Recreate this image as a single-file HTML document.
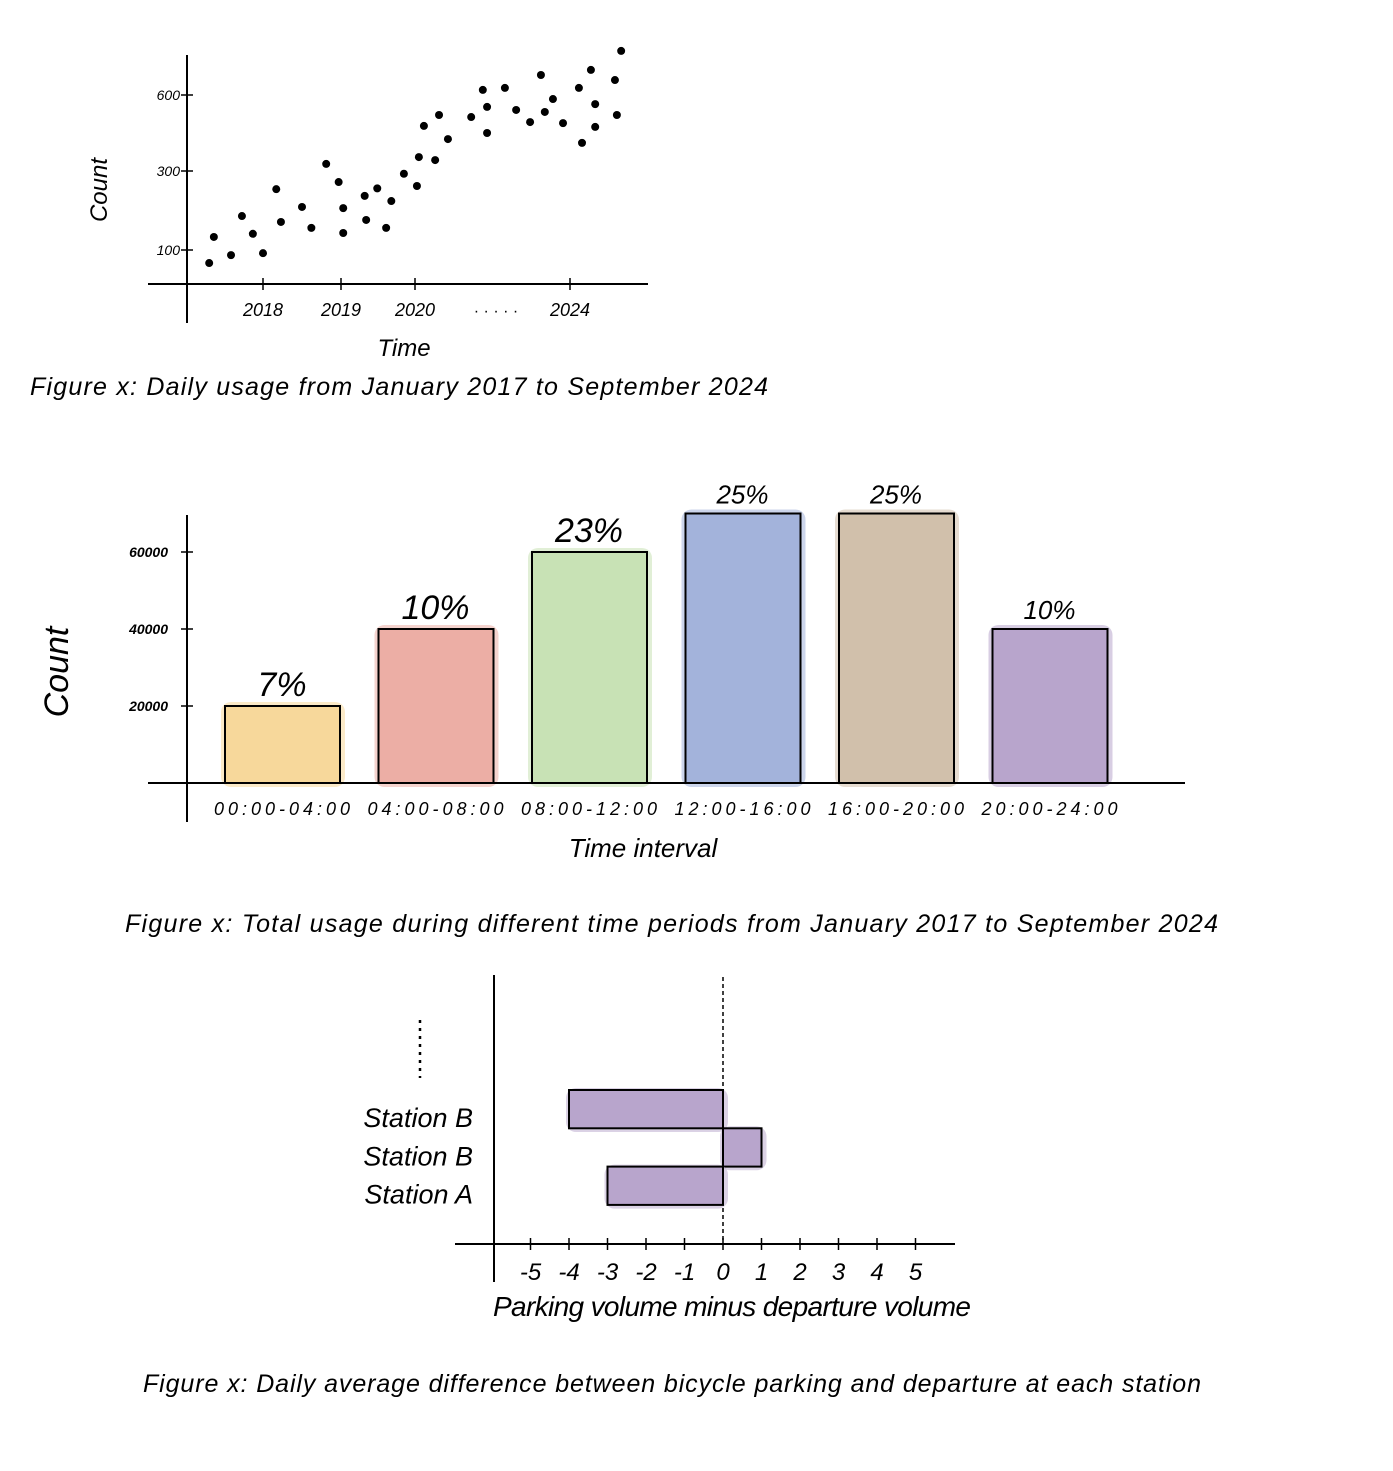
<!DOCTYPE html>
<html><head><meta charset="utf-8"><style>
body{margin:0;background:#fff;}
svg text{font-family:"Liberation Sans",sans-serif;fill:#000;}
</style></head><body>
<svg width="1393" height="1466" viewBox="0 0 1393 1466" id="svg">
<g id="g1"></g>
<g id="g2"></g>
<g id="g3"></g>
</svg>
<script>
// ---- Chart 1 data ----
const scatterYears=[2017.31,2017.37,2017.59,2017.73,2017.87,2018.0,2018.17,2018.23,2018.5,2018.62,2018.81,2018.97,2019.03,2019.03,2019.32,2019.34,2019.49,2019.61,2019.68,2019.85,2020.05,2020.1,2020.23,2020.52,2020.62,2020.85,2021.45,2021.75,2021.86,2021.86,2022.32,2022.61,2022.97,2023.25,2023.35,2023.56,2023.82,2024.23,2024.31,2024.54,2024.65,2024.65,2025.16,2025.21,2025.32];
const scatterCounts=[67,133,87,186,141,92,254,171,209,156,328,272,206,143,237,176,256,156,224,293,262,355,478,343,521,426,513,620,553,450,628,541,493,679,533,584,489,628,411,699,564,474,659,521,774];
const yTicks1=[100,300,600];
const xTicks1=[2018,2019,2020,2024];
// ---- Chart 2 data ----
const intervals=["00:00-04:00","04:00-08:00","08:00-12:00","12:00-16:00","16:00-20:00","20:00-24:00"];
const intervalCounts=[20000,40000,60000,70000,70000,40000];
const intervalPct=["7%","10%","23%","25%","25%","10%"];
const yTicks2=[20000,40000,60000];
// ---- Chart 3 data ----
const stations=["Station B","Station B","Station A"];
const stationDiff=[-4,1,-3];
const xTicks3=[-5,-4,-3,-2,-1,0,1,2,3,4,5];

const NS="http://www.w3.org/2000/svg";
function mk(parent,tag,attrs,text){const e=document.createElementNS(NS,tag);for(const k in attrs)e.setAttribute(k,attrs[k]);if(text!==undefined)e.textContent=text;parent.appendChild(e);return e;}
function pw(d,r){return v=>{let i=0;while(i<d.length-2&&v>d[i+1])i++;return r[i]+(v-d[i])*(r[i+1]-r[i])/(d[i+1]-d[i]);};}

// Chart 1
const g1=document.getElementById('g1');
const x1=pw([2018,2019,2020,2024],[263,341,415,570]);
const y1=pw([100,300,600],[250,171,95]);
let e;
e=mk(g1,'line',{x1:187,y1:55,x2:187,y2:323,stroke:'#000','stroke-width':2});

e=mk(g1,'line',{x1:148,y1:284,x2:648,y2:284,stroke:'#000','stroke-width':2});

yTicks1.forEach(t=>{const y=y1(t);
 e=mk(g1,'line',{x1:181,y1:y,x2:193,y2:y,stroke:'#000','stroke-width':1.5});
 
 e=mk(g1,'text',{x:180,y:y+5,'text-anchor':'end','font-size':14,'font-style':'italic'},t);
 });
xTicks1.forEach(t=>{const x=x1(t);
 e=mk(g1,'line',{x1:x,y1:278,x2:x,y2:290,stroke:'#000','stroke-width':1.5});
 
 e=mk(g1,'text',{x:x,y:316,'text-anchor':'middle','font-size':18,'font-style':'italic'},t);
 });
e=mk(g1,'text',{x:496,y:316,'text-anchor':'middle','font-size':16},'· · · · ·');

scatterYears.forEach((v,i)=>{
 e=mk(g1,'circle',{cx:x1(v),cy:y1(scatterCounts[i]),r:4,fill:'#000'});
 });
e=mk(g1,'text',{x:107,y:190,'text-anchor':'middle','font-size':24,'font-style':'italic',transform:'rotate(-90 107 190)'},'Count');

e=mk(g1,'text',{x:404,y:356,'text-anchor':'middle','font-size':24,'font-style':'italic'},'Time');

e=mk(g1,'text',{x:30,y:395,'font-size':25,'font-style':'italic',textLength:738},'Figure x: Daily usage from January 2017 to September 2024');


// Chart 2
const g2=document.getElementById('g2');
const colors=['#f7d89b','#ecaea5','#c8e2b5','#a3b3db','#d1c0ab','#b8a5cc'];
const y2=v=>783-v*77/20000;
const bx=i=>225+i*153.5;
e=mk(g2,'line',{x1:187,y1:515,x2:187,y2:822,stroke:'#000','stroke-width':2});

yTicks2.forEach(t=>{const y=y2(t);
 e=mk(g2,'line',{x1:181,y1:y,x2:193,y2:y,stroke:'#000','stroke-width':1.5});
 
 e=mk(g2,'text',{x:168,y:y+5,'text-anchor':'end','font-size':14,'font-weight':'bold','font-style':'italic'},t);
 });
intervals.forEach((c,i)=>{const x=bx(i),y=y2(intervalCounts[i]);
 e=mk(g2,'rect',{x:x-4,y:y-4,width:124,height:783-y+8,rx:10,fill:colors[i],opacity:0.55});
 
 e=mk(g2,'rect',{x:x,y:y,width:115,height:783-y,fill:colors[i],stroke:'#000','stroke-width':2});
 
 e=mk(g2,'text',{x:x+57,y:y-10,'text-anchor':'middle','font-size':i>=3?26:34,'font-style':'italic'},intervalPct[i]);
 
 e=mk(g2,'text',{x:x+57,y:815,'text-anchor':'middle','font-size':18,'font-style':'italic',textLength:136},c);
 });
e=mk(g2,'line',{x1:148,y1:783,x2:1185,y2:783,stroke:'#000','stroke-width':2});

e=mk(g2,'text',{x:68,y:672,'text-anchor':'middle','font-size':34,'font-style':'italic',transform:'rotate(-90 68 672)'},'Count');

e=mk(g2,'text',{x:643,y:857,'text-anchor':'middle','font-size':26,'font-style':'italic'},'Time interval');

e=mk(g2,'text',{x:125,y:932,'font-size':25,'font-style':'italic',textLength:1093},'Figure x: Total usage during different time periods from January 2017 to September 2024');


// Chart 3
const g3=document.getElementById('g3');
const x3=v=>723+v*38.5;
const rowTop=i=>1090+i*38.3;
e=mk(g3,'line',{x1:494,y1:975,x2:494,y2:1282,stroke:'#000','stroke-width':2});

e=mk(g3,'line',{x1:723,y1:977,x2:723,y2:1244,stroke:'#000','stroke-width':1.5,'stroke-dasharray':'4 3'});

e=mk(g3,'line',{x1:420,y1:1020,x2:420,y2:1078,stroke:'#000','stroke-width':2.5,'stroke-dasharray':'3 5'});

stations.forEach((s,i)=>{const v=stationDiff[i],y=rowTop(i);const xa=Math.min(x3(0),x3(v)),w=Math.abs(x3(v)-x3(0));
 e=mk(g3,'rect',{x:xa-3,y:y-2,width:w+8,height:44,rx:10,fill:'#b8a5cc',opacity:0.5});
 
 e=mk(g3,'rect',{x:xa,y:y,width:w,height:38.3,fill:'#b8a5cc',stroke:'#000','stroke-width':2});
 
 e=mk(g3,'text',{x:473,y:y+37,'text-anchor':'end','font-size':27,'font-style':'italic'},s);
 });
e=mk(g3,'line',{x1:455,y1:1244,x2:955,y2:1244,stroke:'#000','stroke-width':2});

xTicks3.forEach(t=>{const x=x3(t);
 e=mk(g3,'line',{x1:x,y1:1238,x2:x,y2:1250,stroke:'#000','stroke-width':1.5});
 
 e=mk(g3,'text',{x:x,y:1280,'text-anchor':'middle','font-size':24,'font-style':'italic'},t);
 });
e=mk(g3,'text',{x:732,y:1316,'text-anchor':'middle','font-size':28,'font-style':'italic',textLength:478},'Parking volume minus departure volume');

e=mk(g3,'text',{x:143,y:1392,'font-size':25,'font-style':'italic',textLength:1058},'Figure x: Daily average difference between bicycle parking and departure at each station');

</script>
</body></html>
